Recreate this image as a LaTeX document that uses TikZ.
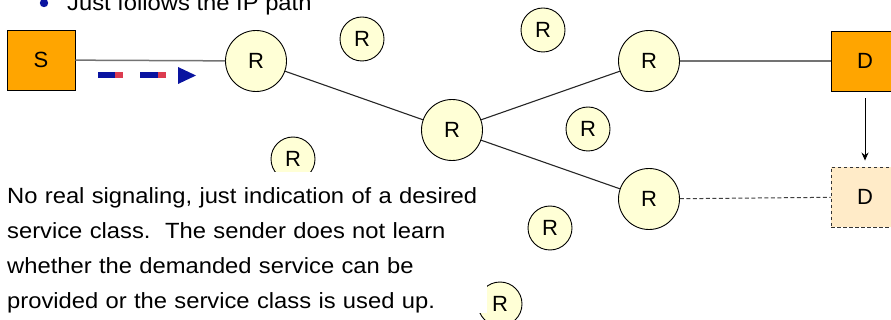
\documentclass[tikz,border=0pt]{standalone}
\usepackage{fontspec}
\usetikzlibrary{arrows.meta}
\setmainfont{Liberation Sans}
\newfontfamily\widefont[FakeStretch=1.08]{Liberation Sans}
\definecolor{rfill}{HTML}{FFFFD6}
\definecolor{orng}{HTML}{FFA500}
\definecolor{lorng}{HTML}{FFEBC8}
\definecolor{dblue}{HTML}{0A14A0}
\definecolor{dred}{HTML}{DC3C50}
\begin{document}
\begin{tikzpicture}[x=1pt,y=-1pt,
  rbig/.style={circle,draw=black,line width=0.9pt,fill=rfill,minimum size=61pt,inner sep=0pt,font=\fontsize{22}{24}\selectfont},
  rsmall/.style={circle,draw=black,line width=0.9pt,fill=rfill,minimum size=44pt,inner sep=0pt,font=\fontsize{22}{24}\selectfont},
  host/.style={draw=black,line width=0.9pt,fill=orng,minimum width=68pt,minimum height=60pt,inner sep=0pt,font=\fontsize{22}{24}\selectfont},
  ghost/.style={draw=black!80,line width=0.9pt,dash pattern=on 3.5pt off 2.5pt,fill=lorng,minimum width=68pt,minimum height=60pt,inner sep=0pt,font=\fontsize{22}{24}\selectfont},
  link/.style={draw=black!85,line width=1.1pt},
  glink/.style={draw=black!55,line width=1.5pt}]
\useasboundingbox (0,0) rectangle (891,320);
\clip (0,0) rectangle (891,320);
% top bullet line
\node[anchor=base west,inner sep=0pt,font=\widefont\fontsize{22}{24}\selectfont] (bullet) at (67,10.5) {Just follows the IP path};
\fill[dblue] (44,3) circle (4.2pt);
% nodes
\node[host] (S) at (41,60) {S};
\node[host] (D) at (865,61) {D};
\node[ghost] (D2) at (865,197) {D};
\node[rbig] (R1) at (256,61) {R};
\node[rbig] (R2) at (452,130) {R};
\node[rbig] (R3) at (649,61) {R};
\node[rbig] (R4) at (649,199) {R};
\node[rsmall] (a) at (362,39) {R};
\node[rsmall] (b) at (543,30) {R};
\node[rsmall] (c) at (588,129) {R};
\node[rsmall] (d) at (293,159) {R};
\node[rsmall] (e) at (550,228) {R};
\node[rsmall] (f) at (500,304) {R};
% links
\draw[glink] (S) -- (R1);
\draw[link] (R1) -- (R2);
\draw[link] (R2) -- (R3);
\draw[link] (R2) -- (R4);
\draw[glink] (R3) -- (D);
\draw[black!75,line width=1pt,dash pattern=on 4pt off 2.5pt] (R4) -- (D2);
\draw[-{Stealth[length=8pt,width=7pt]},line width=1pt] ([yshift=-7pt]D.south) -- ([yshift=6pt]D2.north);
% packet arrows
\fill[dblue] (98,72) rectangle (115,78);
\fill[dred] (115,72) rectangle (123,78);
\fill[dblue] (140,72) rectangle (158,78);
\fill[dred] (158,72) rectangle (166,78);
\coordinate (tipa) at (178,67);
\fill[dblue] (tipa) -- (196,75.5) -- (178,84) -- cycle;
% text
\node[anchor=north west,fill=white,inner sep=0pt,align=left,text width=480pt,
  font=\widefont\fontsize{22}{35}\selectfont] (txt) at (7,172)
 {\rule{0pt}{31pt}No real signaling, just indication of a desired\\
  service class.\ \ The sender does not learn\\
  whether the demanded service can be\\
  provided or the service class is used up.};
\end{tikzpicture}
\end{document}
